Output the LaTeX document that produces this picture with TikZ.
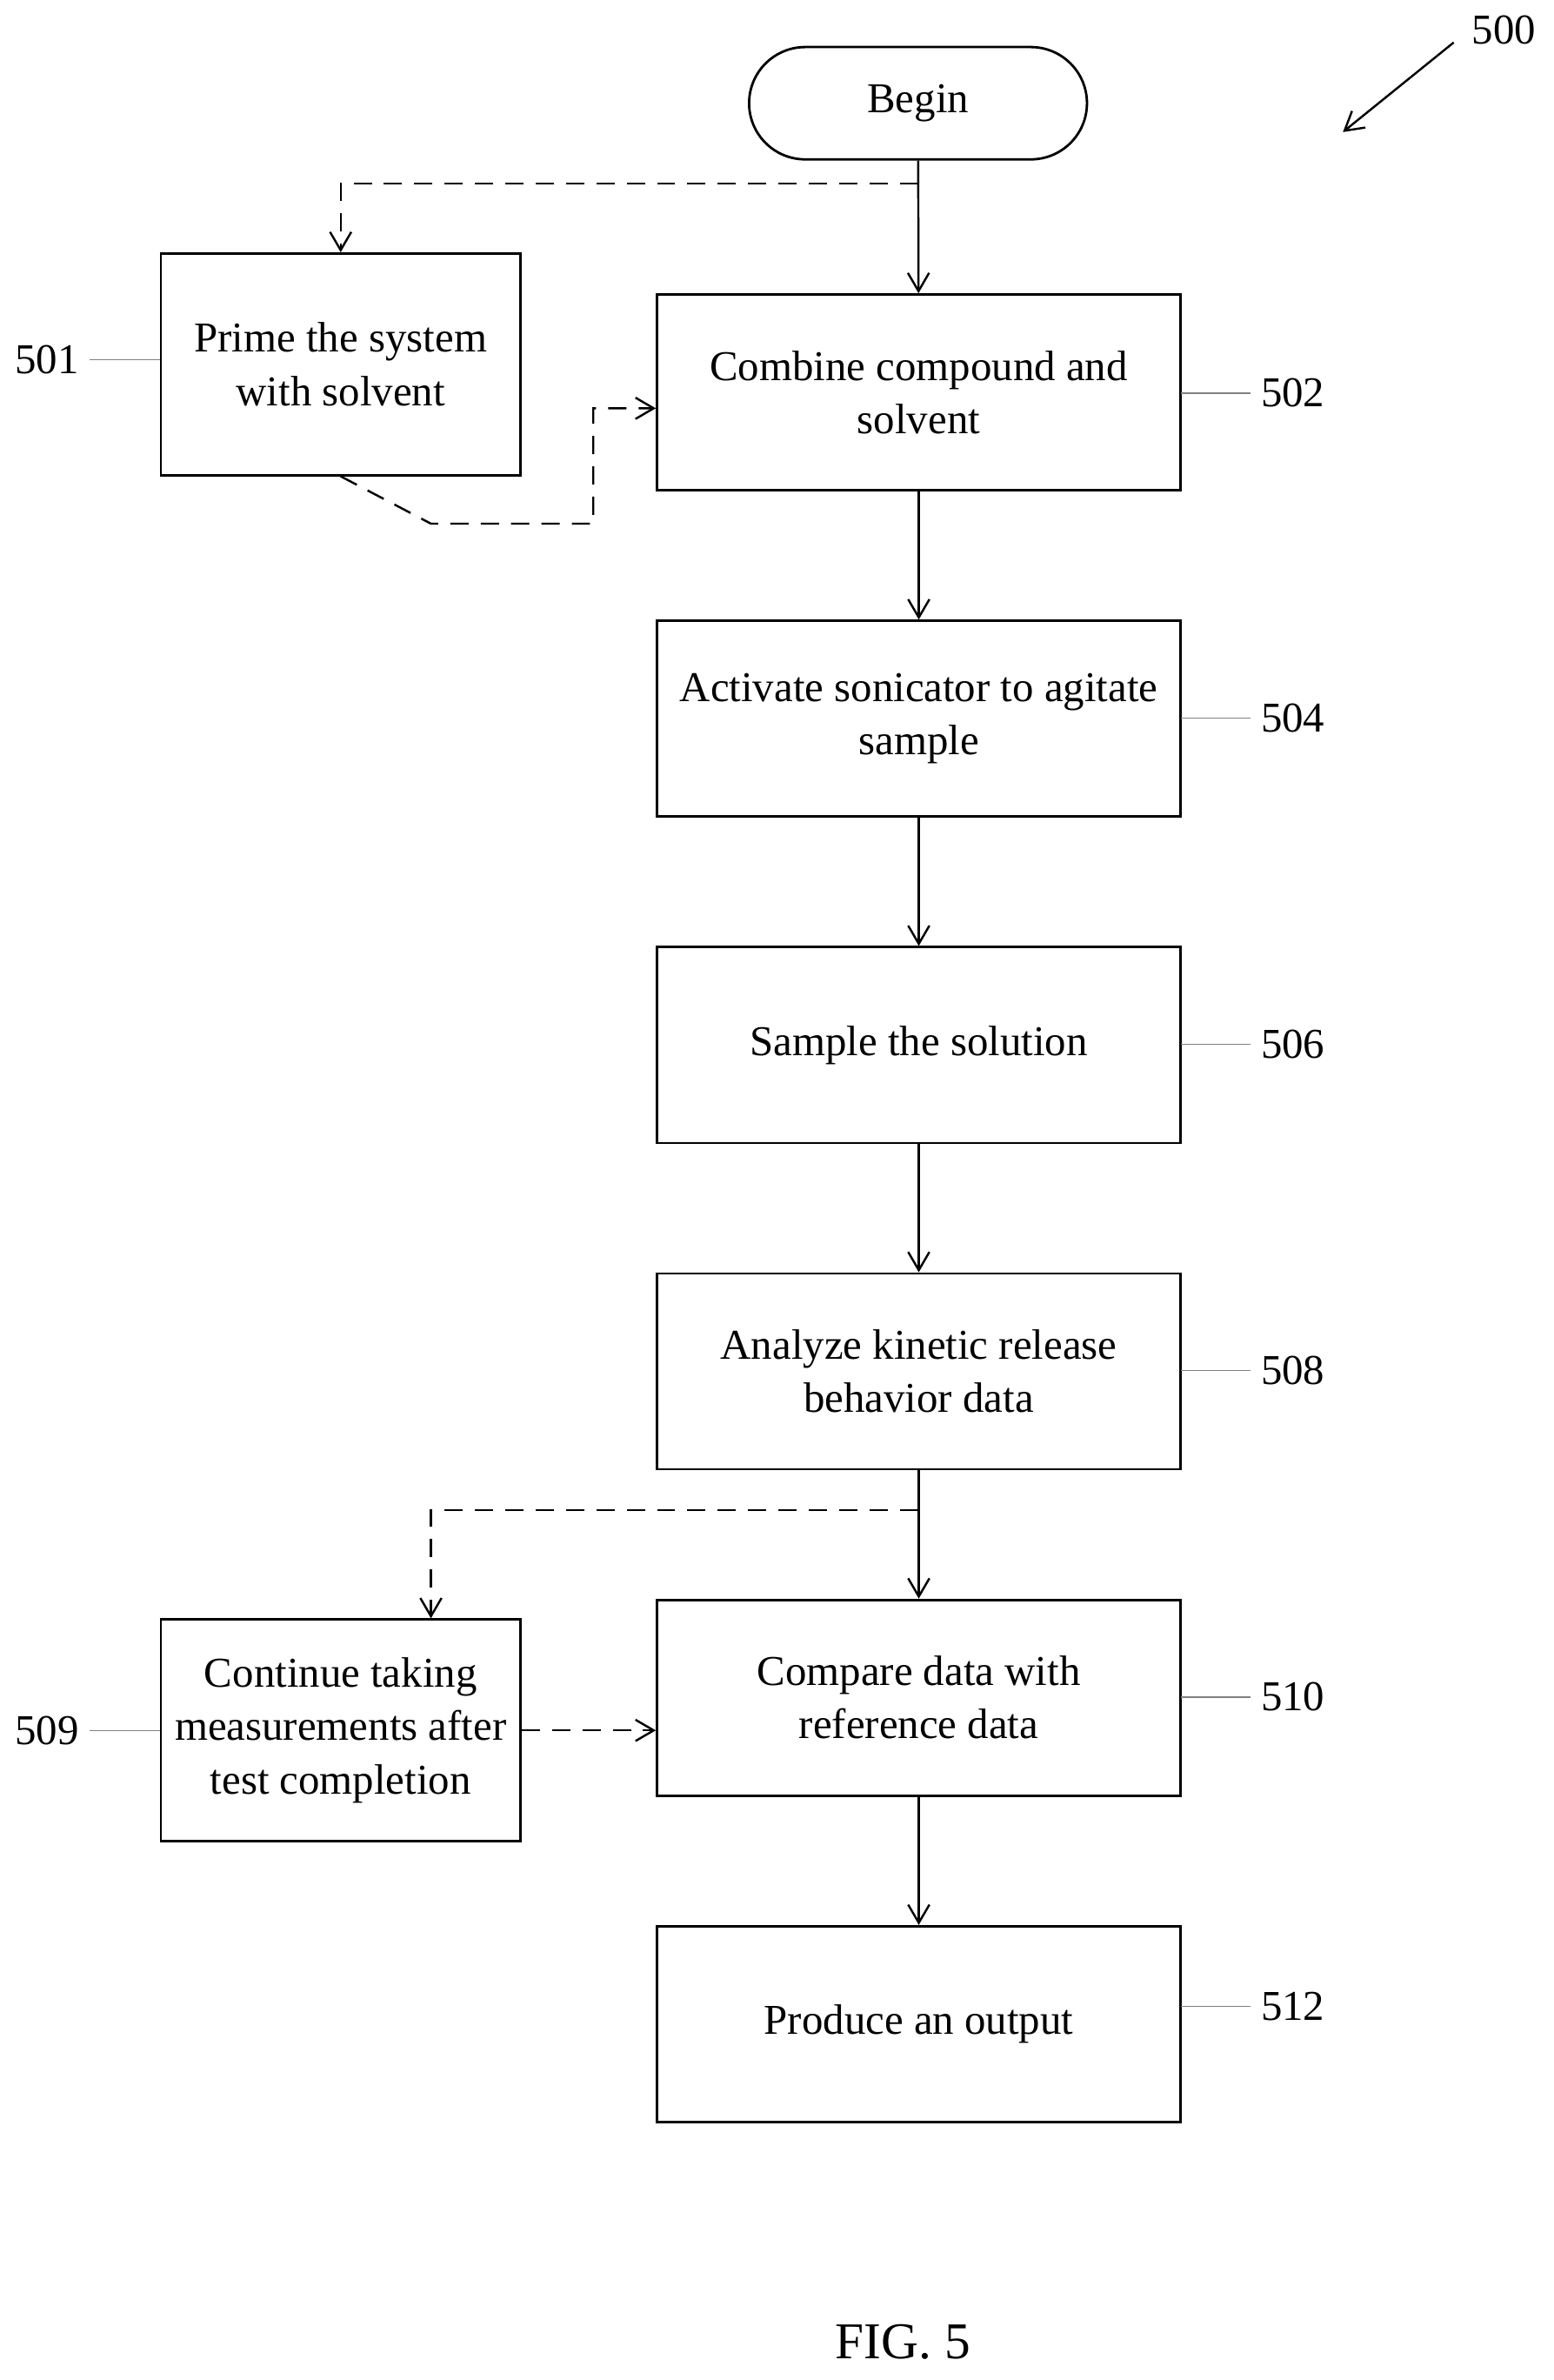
\documentclass[tikz,border=0pt]{standalone}
\usepackage{fontspec}
\setmainfont{Liberation Serif}
\usetikzlibrary{arrows.meta,shapes.misc}
\begin{document}
\begin{tikzpicture}[x=0.5pt,y=-0.5pt,
  box/.style={draw,line width=0.8pt,minimum width=172.5pt,minimum height=64.5pt,align=center,inner sep=0pt},
  sbox/.style={draw,line width=0.8pt,minimum width=118.5pt,minimum height=73pt,align=center,inner sep=0pt},
  arr/.style={-{Straight Barb[length=6pt,width=7pt]},line width=0.7pt},
  dar/.style={arr,dash pattern=on 6pt off 4pt},
  lead/.style={line width=0.4pt,draw=gray},
  every node/.style={font=\fontsize{14}{17.5}\selectfont}]
\useasboundingbox (0,0) rectangle (1024,1568);
\node[draw,line width=0.8pt,rounded rectangle,minimum width=118pt,minimum height=37pt] (b) at (605,68) {Begin};
\node[sbox] (n501) at (224.5,240) {Prime the system\\with solvent};
\node[box] (n502) at (605.5,258.5) {Combine compound and\\solvent};
\node[box] (n504) at (605.5,473.5) {Activate sonicator to agitate\\sample};
\node[box] (n506) at (605.5,688.5) {Sample the solution};
\node[box] (n508) at (605.5,903.5) {Analyze kinetic release\\behavior data};
\node[box] (n510) at (605.5,1118.5) {Compare data with\\reference data};
\node[sbox] (n509) at (224.5,1140) {Continue taking\\measurements after\\test completion};
\node[box] (n512) at (605.5,1333.5) {Produce an output};
\draw[arr] (b) -- (n502);
\draw[arr] (n502) -- (n504);
\draw[arr] (n504) -- (n506);
\draw[arr] (n506) -- (n508);
\draw[arr] (n508) -- (n510);
\draw[arr] (n510) -- (n512);
\coordinate (c1) at (605,121);
\draw[dar] (c1) -| (n501.north);
\draw[dar] (n501.south) -- (284,345) -- (391,345) -- (391,269) -- (n502.west|-391,269);
\coordinate (c2) at (605,995);
\draw[dar] (c2) -| (n509.north -| 284,0);
\draw[dar] (n509.east) -- (n510.west|-n509.east);
\node (l501) at (31,237) {501}; \draw[lead] (l501.east) -- (n501.west|-l501);
\node (l509) at (31,1140) {509}; \draw[lead] (l509.east) -- (n509.west|-l509);
\foreach \n/\y in {502/259,504/473,506/688,508/903,510/1118,512/1322}{
  \node (l\n) at (852,\y) {\n}; \draw[lead] (778,\y) -- (l\n.west);}
\node (l500) at (991,20) {500};
\draw[arr,-{Straight Barb[length=6pt,width=7pt]}] (958,28) -- (885,87);
\node[font=\fontsize{17}{20}\selectfont] (fig) at (595,1543) {FIG. 5};
\end{tikzpicture}
\end{document}
